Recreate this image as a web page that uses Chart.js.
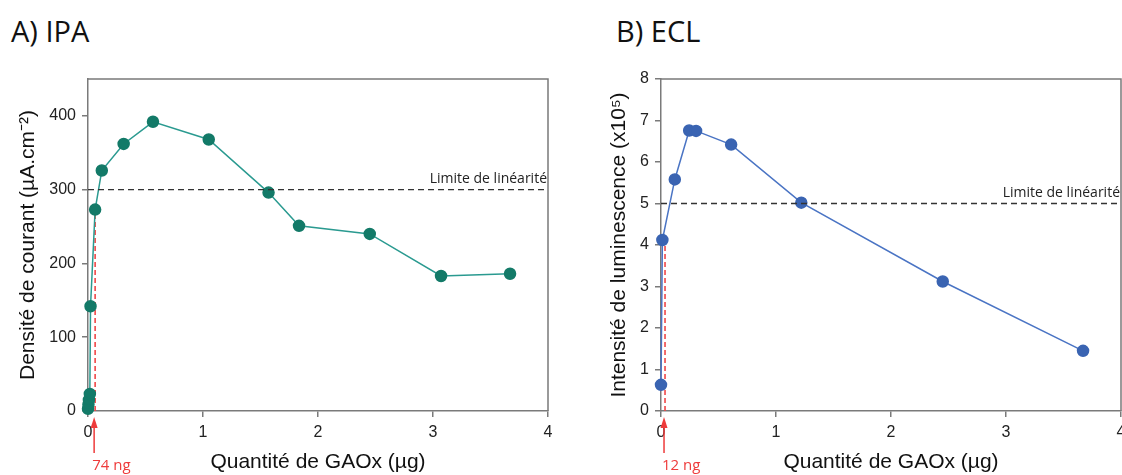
<!DOCTYPE html>
<html>
<head>
<meta charset="utf-8">
<script src="https://cdn.jsdelivr.net/npm/chart.js@4.4.1/dist/chart.umd.min.js"></script>
<style>
  html, body { margin: 0; padding: 0; background: #fff; overflow: hidden; }
  body { width: 1122px; height: 475px; position: relative; }
  .panel-title { position: absolute; top: 16px; font: 29px "Open Sans", sans-serif; line-height: 1; color: #111; }
  .box { position: absolute; top: 0; height: 475px; }
</style>
</head>
<body>
<div class="panel-title" style="left:11px">A) IPA</div>
<div class="panel-title" style="left:616px">B) ECL</div>
<div class="box" style="left:0;width:561px"><canvas id="chartA"></canvas></div>
<div class="box" style="left:561px;width:600px"><canvas id="chartB"></canvas></div>
<script>
// --- data ---
// A) IPA : current density vs GAOx amount
const gaoxA = [0, 0.004, 0.008, 0.016, 0.022, 0.062, 0.12, 0.31, 0.565, 1.05, 1.57, 1.835, 2.45, 3.07, 3.67];
const courantA = [3, 9, 15, 23, 142, 273, 326, 362, 392, 368, 296, 251, 240, 183, 186];
const ticksXA = [0, 1, 2, 3, 4];
const ticksYA = [0, 100, 200, 300, 400];
const limiteA = 300;
const seuilA = { x: 0.062, y: 273, label: '74 ng' };

// B) ECL : luminescence intensity (x10^5) vs GAOx amount
const gaoxB = [0, 0.012, 0.12, 0.245, 0.305, 0.61, 1.22, 2.45, 3.67];
const lumB = [0.63, 4.12, 5.58, 6.76, 6.75, 6.42, 5.02, 3.12, 1.45];
const ticksXB = [0, 1, 2, 3, 4];
const ticksYB = [0, 1, 2, 3, 4, 5, 6, 7, 8];
const limiteB = 5;
const seuilB = { x: 0.035, y: 4.12, label: '12 ng' };

const LIMIT_TEXT = 'Limite de linéarité';
const AXIS_FONT = 'Liberation Sans';

// frame (top/right), linearity label and red arrow under the axis
const extrasPlugin = {
  id: 'extras',
  afterDraw(chart, args, opts) {
    const { ctx, chartArea: a, scales: { x, y } } = chart;
    ctx.save();
    ctx.strokeStyle = '#7a7a7a';
    ctx.lineWidth = 1.5;
    ctx.beginPath();
    ctx.moveTo(a.left, a.top);
    ctx.lineTo(a.right, a.top);
    ctx.lineTo(a.right, a.bottom);
    ctx.stroke();

    ctx.fillStyle = '#222';
    ctx.font = '14px "Open Sans", sans-serif';
    ctx.textAlign = 'right';
    ctx.textBaseline = 'alphabetic';
    ctx.fillText(LIMIT_TEXT, a.right - 1, y.getPixelForValue(opts.limit) - 7);

    // red arrow pointing at the threshold
    const ax = x.getPixelForValue(opts.seuil.x) - 1;
    const tip = a.bottom + 6;
    ctx.strokeStyle = '#ee3b3b';
    ctx.fillStyle = '#ee3b3b';
    ctx.lineWidth = 1.5;
    ctx.beginPath();
    ctx.moveTo(ax, tip + 8);
    ctx.lineTo(ax, a.bottom + 42);
    ctx.stroke();
    ctx.beginPath();
    ctx.moveTo(ax, tip);
    ctx.lineTo(ax - 3.5, tip + 11);
    ctx.lineTo(ax + 3.5, tip + 11);
    ctx.closePath();
    ctx.fill();
    ctx.font = '15px "Open Sans", sans-serif';
    ctx.textAlign = 'left';
    ctx.fillText(opts.seuil.label, ax - 2, a.bottom + 59);
    ctx.restore();
  }
};

function makeChart(id, cfg) {
  const points = cfg.xs.map((v, i) => ({ x: v, y: cfg.ys[i] }));
  return new Chart(document.getElementById(id), {
    type: 'line',
    data: {
      datasets: [
        {
          // linearity limit
          data: [{ x: 0, y: cfg.limit }, { x: 4, y: cfg.limit }],
          borderColor: '#333',
          borderWidth: 1.3,
          borderDash: [6, 4],
          pointRadius: 0
        },
        {
          data: points,
          borderColor: cfg.lineColor,
          borderWidth: 1.5,
          pointBackgroundColor: cfg.pointColor,
          pointBorderColor: cfg.pointColor,
          pointRadius: 5.5,
          tension: 0,
          clip: false
        },
        {
          // red dashed threshold line
          data: [{ x: cfg.seuil.x, y: 0 }, { x: cfg.seuil.x, y: cfg.seuil.y }],
          borderColor: '#f04848',
          borderWidth: 1.6,
          borderDash: [5, 3],
          pointRadius: 0
        }
      ]
    },
    options: {
      responsive: false,
      animation: false,
      events: [],
      layout: { padding: { left: 0, right: cfg.padRight, top: 79, bottom: 0 } },
      plugins: {
        legend: { display: false },
        tooltip: { enabled: false },
        extras: { limit: cfg.limit, seuil: cfg.seuil }
      },
      scales: {
        x: {
          type: 'linear',
          min: 0,
          max: 4,
          afterBuildTicks: s => { s.ticks = cfg.ticksX.map(v => ({ value: v })); },
          afterFit: s => { s.height = 64; },
          grid: { drawOnChartArea: false, tickLength: 6, color: '#7a7a7a', lineWidth: 1.5 },
          border: { color: '#7a7a7a', width: 1.5 },
          ticks: { color: '#222', padding: 6, maxRotation: 0, font: { family: AXIS_FONT, size: 16 } },
          title: {
            display: true,
            text: 'Quantité de GAOx (µg)',
            color: '#111',
            padding: { top: 0, bottom: 0 },
            font: { family: AXIS_FONT, size: 21 }
          }
        },
        y: {
          min: 0,
          max: cfg.yMax,
          afterBuildTicks: s => { s.ticks = cfg.ticksY.map(v => ({ value: v })); },
          afterFit: s => { s.width = cfg.yWidth; },
          grid: { drawOnChartArea: false, tickLength: 6, color: '#7a7a7a', lineWidth: 1.5 },
          border: { color: '#7a7a7a', width: 1.5 },
          ticks: { color: '#222', padding: 6, font: { family: AXIS_FONT, size: 16 } },
          title: {
            display: true,
            text: cfg.yTitle,
            color: '#111',
            padding: { top: cfg.yTitlePad, bottom: 0 },
            font: { family: AXIS_FONT, size: 21 }
          }
        }
      }
    },
    plugins: [extrasPlugin]
  });
}

function sizeCanvas(id, w, h) {
  const c = document.getElementById(id);
  c.width = w; c.height = h;
  c.style.width = w + 'px'; c.style.height = h + 'px';
}
sizeCanvas('chartA', 561, 475);
sizeCanvas('chartB', 600, 475);

makeChart('chartA', {
  xs: gaoxA, ys: courantA, ticksX: ticksXA, ticksY: ticksYA,
  yMax: 450, limit: limiteA, seuil: seuilA,
  yTitle: 'Densité de courant (µA.cm⁻²)', yTitlePad: 16, yWidth: 88, padRight: 13,
  lineColor: '#2a9a90', pointColor: '#137a68'
});

makeChart('chartB', {
  xs: gaoxB, ys: lumB, ticksX: ticksXB, ticksY: ticksYB,
  yMax: 8, limit: limiteB, seuil: seuilB,
  yTitle: 'Intensité de luminescence (x10⁵)', yTitlePad: 46, yWidth: 100, padRight: 40,
  lineColor: '#4a74c4', pointColor: '#3a64b2'
});
</script>
</body>
</html>
